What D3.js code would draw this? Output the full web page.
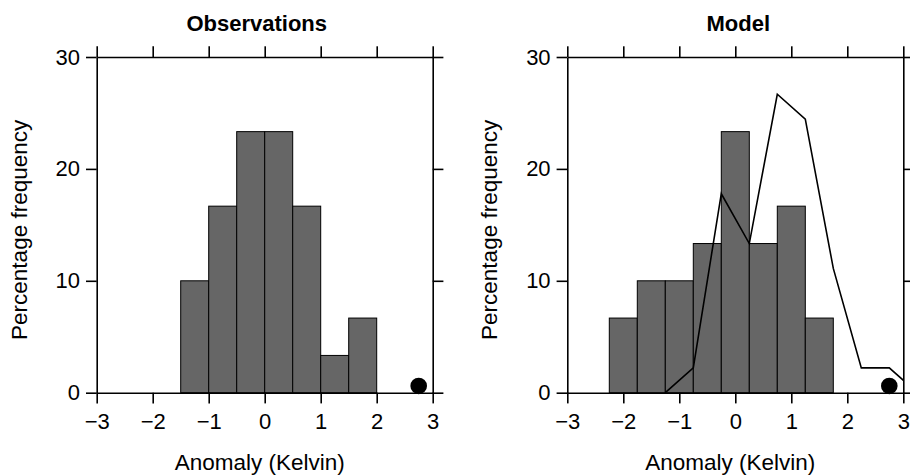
<!DOCTYPE html>
<html>
<head>
<meta charset="utf-8">
<script src="https://cdn.jsdelivr.net/npm/d3@7"></script>
<style>
  body { margin: 0; background: #fff; }
  svg { font-family: "Liberation Sans", Arial, Helvetica, sans-serif; }
  .axis text { font-size: 22px; fill: #000; }
  .axis path, .axis line { stroke: #000; stroke-width: 1.6; }
</style>
</head>
<body>
<div id="chart"></div>
<script>
// tick values
var xTicks = [-3, -2, -1, 0, 1, 2, 3];
var yTicks = [0, 10, 20, 30];
var binWidth = 0.5;

// observations histogram (bin left edges, percentage)
var obsBins = [-1.5, -1, -0.5, 0, 0.5, 1, 1.5];
var obsPct = [10, 16.67, 23.33, 23.33, 16.67, 3.33, 6.67];

// model histogram
var modelBins = [-2.25, -1.75, -1.25, -0.75, -0.25, 0.25, 0.75, 1.25];
var modelPct = [6.67, 10, 10, 13.33, 23.33, 13.33, 16.67, 6.67];

// model curve
var curveX = [-1.25, -0.75, -0.25, 0.25, 0.75, 1.25, 1.75, 2.25, 2.75, 3.25];
var curveY = [0, 2.22, 17.78, 13.33, 26.67, 24.44, 11.11, 2.22, 2.22, 0];

// observed point
var dotX = [2.75];
var dotY = [0.6];

var W = 910, H = 475;
var svg = d3.select("#chart").append("svg")
    .attr("width", W)
    .attr("height", H);

var plotW = 336, plotH = 335.7, plotTop = 57;
var tick = 10.7;

function drawPanel(left, title, titleShift, bins, pct, id, withCurve) {
  var x = d3.scaleLinear().domain([-3, 3]).range([0, plotW]);
  var y = d3.scaleLinear().domain([0, 30]).range([plotH, 0]);

  var g = svg.append("g")
      .attr("transform", "translate(" + left + "," + plotTop + ")");

  g.append("clipPath").attr("id", id)
    .append("rect").attr("width", plotW).attr("height", plotH);

  // bars
  g.append("g")
    .selectAll("rect")
    .data(bins)
    .enter()
    .append("rect")
      .attr("x", function (d) { return x(d); })
      .attr("y", function (d, i) { return y(pct[i]); })
      .attr("width", function (d) { return x(d + binWidth) - x(d); })
      .attr("height", function (d, i) { return y(0) - y(pct[i]); })
      .style("fill", "#666666")
      .style("stroke", "#000")
      .style("stroke-width", 1);

  // model curve
  if (withCurve) {
    var line = d3.line()
        .x(function (d, i) { return x(d); })
        .y(function (d, i) { return y(curveY[i]); });
    g.append("path")
      .datum(curveX)
      .attr("clip-path", "url(#" + id + ")")
      .attr("d", line)
      .style("fill", "none")
      .style("stroke", "#000")
      .style("stroke-width", 1.6);
  }

  // observed dot
  g.append("g")
    .selectAll("circle")
    .data(dotX)
    .enter()
    .append("circle")
      .attr("cx", function (d) { return x(d); })
      .attr("cy", function (d, i) { return y(dotY[i]); })
      .attr("r", 8.3)
      .style("fill", "#000");

  // axes, ticks pointing out on all sides
  g.append("g")
      .attr("class", "axis")
      .attr("transform", "translate(0," + plotH + ")")
      .call(d3.axisBottom(x).tickValues(xTicks).tickSize(tick).tickSizeOuter(0)
        .tickPadding(10).tickFormat(d3.format("d")));
  g.append("g")
      .attr("class", "axis")
      .call(d3.axisTop(x).tickValues(xTicks).tickSize(tick).tickSizeOuter(0).tickFormat(""));
  g.append("g")
      .attr("class", "axis")
      .call(d3.axisLeft(y).tickValues(yTicks).tickSize(tick).tickSizeOuter(0)
        .tickPadding(6).tickFormat(d3.format("d")));
  g.append("g")
      .attr("class", "axis")
      .attr("transform", "translate(" + plotW + ",0)")
      .call(d3.axisRight(y).tickValues(yTicks).tickSize(tick).tickSizeOuter(0).tickFormat(""));

  // title
  g.append("text")
      .attr("text-anchor", "middle")
      .attr("x", plotW / 2 + titleShift)
      .attr("y", -26)
      .style("font-size", "22px")
      .style("font-weight", "bold")
      .text(title);

  // x label
  g.append("text")
      .attr("text-anchor", "middle")
      .attr("x", plotW / 2 - 5)
      .attr("y", plotH + 77)
      .style("font-size", "22.5px")
      .text("Anomaly (Kelvin)");

  // y label
  g.append("text")
      .attr("text-anchor", "middle")
      .attr("transform", "rotate(-90)")
      .attr("x", -plotH / 2 - 5)
      .attr("y", -70)
      .style("font-size", "22.5px")
      .text("Percentage frequency");
}

drawPanel(96.7, "Observations", -8, obsBins, obsPct, "clipObs", false);
drawPanel(567.3, "Model", 3, modelBins, modelPct, "clipModel", true);
</script>
</body>
</html>
